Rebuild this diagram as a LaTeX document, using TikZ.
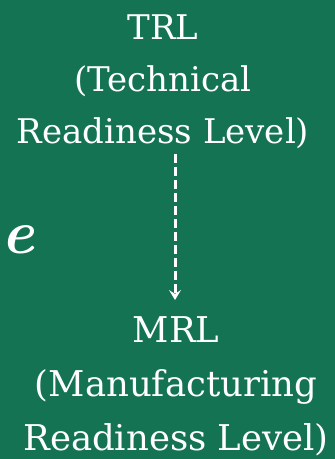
\documentclass[tikz,border=0pt]{standalone}
\usepackage{fontspec}
\setmainfont{DejaVu Serif}
\newfontfamily\efont{Latin Modern Roman}
\usetikzlibrary{arrows.meta}
\definecolor{bggreen}{RGB}{20,115,83}
\tikzset{
  label text/.style={text=white, align=center, inner sep=0pt, anchor=base},
  flow/.style={draw=white, line width=3pt, dash pattern=on 9pt off 4pt,
    -{Stealth[length=10pt,width=12pt,inset=4pt]}}
}
\begin{document}
\begin{tikzpicture}[x=1pt,y=1pt]
\fill[bggreen] (0,0) rectangle (335,459);
\useasboundingbox (0,0) rectangle (335,459);
\node[label text, font=\fontsize{34}{52.5}\selectfont] (trl) at (163,315)
  {TRL\\(Technical\\Readiness Level)};
\node[label text, font=\fontsize{35.5}{54}\selectfont] (mrl) at (176,9)
  {MRL\\(Manufacturing\\Readiness Level)};
\node[text=white, inner sep=0pt, anchor=base, font=\efont\bfseries\itshape\fontsize{62}{62}\selectfont] (e) at (18,205) {e};
\coordinate (a1) at (175,305);
\coordinate (a2) at (175,159);
\draw[flow] (a1) -- (a2);
\end{tikzpicture}
\end{document}
